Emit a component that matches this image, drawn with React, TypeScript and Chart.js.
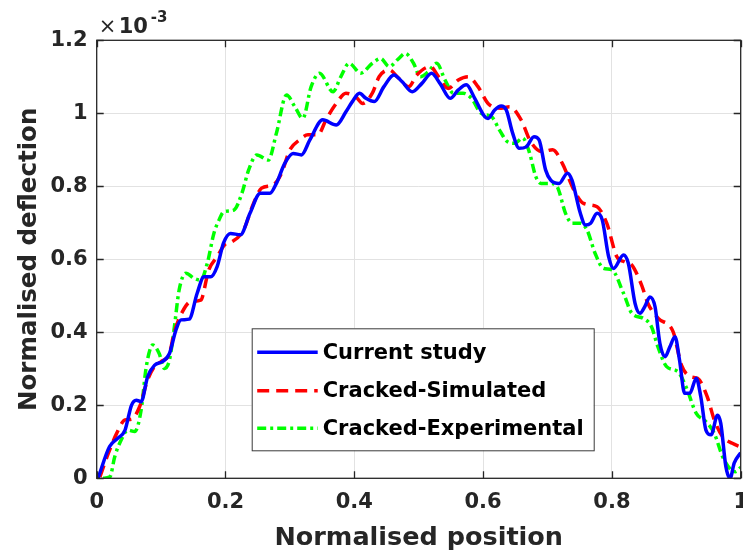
import React, { useEffect, useRef } from 'react';
import { Chart, registerables } from 'chart.js';

Chart.register(...registerables);

// ---------- data ----------
const X_TICKS = [0, 0.2, 0.4, 0.6, 0.8, 1];
const X_TICK_LABELS = ['0', '0.2', '0.4', '0.6', '0.8', '1'];
const Y_TICKS = [0, 0.2, 0.4, 0.6, 0.8, 1, 1.2];
const Y_TICK_LABELS = ['0', '0.2', '0.4', '0.6', '0.8', '1', '1.2'];

const X_TITLE = 'Normalised position';
const Y_TITLE = 'Normalised deflection';
const SERIES_NAMES = ['Current study', 'Cracked-Simulated', 'Cracked-Experimental'];

// values in units of 1e-3
const CURRENT_X = [0.002, 0.02, 0.033, 0.044, 0.054, 0.0615, 0.069, 0.079, 0.09, 0.1025, 0.113, 0.123, 0.131, 0.1435, 0.156, 0.1666, 0.177, 0.187, 0.197, 0.2077, 0.223, 0.238, 0.254, 0.269, 0.279, 0.292, 0.305, 0.318, 0.331, 0.351, 0.372, 0.387, 0.397, 0.408, 0.418, 0.431, 0.446, 0.4615, 0.474, 0.49, 0.505, 0.52, 0.533, 0.549, 0.5615, 0.574, 0.587, 0.6025, 0.6077, 0.618, 0.628, 0.636, 0.646, 0.656, 0.667, 0.679, 0.687, 0.697, 0.705, 0.718, 0.731, 0.738, 0.751, 0.759, 0.767, 0.777, 0.785, 0.795, 0.8025, 0.818, 0.8255, 0.836, 0.8435, 0.851, 0.859, 0.867, 0.8745, 0.8825, 0.89, 0.898, 0.905, 0.913, 0.921, 0.931, 0.938, 0.946, 0.954, 0.964, 0.969, 0.977, 0.9835, 0.99, 1.0];
const CURRENT_Y = [0.0, 0.087, 0.11, 0.132, 0.2, 0.214, 0.21, 0.278, 0.31, 0.32, 0.342, 0.406, 0.434, 0.436, 0.507, 0.552, 0.552, 0.58, 0.645, 0.671, 0.667, 0.726, 0.781, 0.781, 0.808, 0.863, 0.89, 0.886, 0.927, 0.982, 0.968, 1.004, 1.032, 1.055, 1.041, 1.032, 1.073, 1.105, 1.087, 1.059, 1.082, 1.11, 1.082, 1.041, 1.064, 1.078, 1.041, 0.991, 0.986, 1.009, 1.02, 1.009, 0.945, 0.904, 0.908, 0.936, 0.927, 0.845, 0.817, 0.808, 0.836, 0.817, 0.726, 0.694, 0.699, 0.726, 0.708, 0.607, 0.575, 0.612, 0.589, 0.479, 0.452, 0.47, 0.497, 0.47, 0.37, 0.333, 0.36, 0.388, 0.324, 0.233, 0.233, 0.274, 0.224, 0.132, 0.119, 0.173, 0.151, 0.032, 0.0, 0.042, 0.07];

const SIMULATED_X = [0.005, 0.018, 0.031, 0.044, 0.054, 0.0666, 0.079, 0.0897, 0.1, 0.113, 0.12, 0.133, 0.146, 0.1615, 0.174, 0.187, 0.2, 0.21, 0.228, 0.2435, 0.256, 0.274, 0.287, 0.3, 0.315, 0.328, 0.3435, 0.356, 0.372, 0.387, 0.4025, 0.413, 0.428, 0.4385, 0.454, 0.469, 0.4846, 0.497, 0.518, 0.531, 0.546, 0.5615, 0.577, 0.592, 0.6077, 0.628, 0.641, 0.659, 0.674, 0.692, 0.708, 0.723, 0.741, 0.756, 0.777, 0.792, 0.8077, 0.82, 0.831, 0.846, 0.856, 0.872, 0.895, 0.908, 0.923, 0.933, 0.948, 0.959, 0.972, 0.987, 1.0];
const SIMULATED_Y = [0.004, 0.068, 0.123, 0.16, 0.162, 0.196, 0.269, 0.306, 0.32, 0.342, 0.397, 0.456, 0.484, 0.488, 0.571, 0.607, 0.642, 0.648, 0.68, 0.753, 0.795, 0.804, 0.836, 0.9, 0.927, 0.941, 0.941, 0.982, 1.027, 1.055, 1.045, 1.027, 1.055, 1.1, 1.119, 1.096, 1.073, 1.105, 1.128, 1.1, 1.068, 1.091, 1.1, 1.073, 1.027, 1.014, 1.018, 0.982, 0.922, 0.895, 0.9, 0.863, 0.79, 0.753, 0.744, 0.699, 0.607, 0.593, 0.584, 0.53, 0.479, 0.438, 0.402, 0.31, 0.278, 0.274, 0.224, 0.16, 0.114, 0.096, 0.086];

const EXPERIMENTAL_X = [0.01, 0.0205, 0.028, 0.038, 0.0486, 0.059, 0.069, 0.077, 0.087, 0.097, 0.105, 0.113, 0.12, 0.128, 0.1385, 0.151, 0.1615, 0.1717, 0.182, 0.19, 0.197, 0.213, 0.2255, 0.236, 0.2486, 0.2666, 0.279, 0.2948, 0.3077, 0.32, 0.333, 0.346, 0.367, 0.379, 0.392, 0.41, 0.428, 0.441, 0.454, 0.469, 0.479, 0.492, 0.5025, 0.515, 0.528, 0.541, 0.554, 0.569, 0.582, 0.597, 0.613, 0.6255, 0.638, 0.649, 0.6615, 0.6715, 0.682, 0.69, 0.705, 0.715, 0.728, 0.738, 0.751, 0.7615, 0.774, 0.787, 0.8, 0.818, 0.831, 0.849, 0.8615, 0.8715, 0.885, 0.9025, 0.915, 0.931, 0.946, 0.959, 0.972, 0.985, 0.992, 1.0];
const EXPERIMENTAL_Y = [0.0, 0.004, 0.059, 0.105, 0.132, 0.128, 0.187, 0.306, 0.365, 0.342, 0.301, 0.324, 0.406, 0.516, 0.562, 0.548, 0.543, 0.589, 0.671, 0.708, 0.73, 0.735, 0.781, 0.845, 0.886, 0.872, 0.945, 1.05, 1.018, 0.986, 1.073, 1.11, 1.059, 1.1, 1.137, 1.11, 1.137, 1.15, 1.128, 1.15, 1.164, 1.137, 1.1, 1.114, 1.137, 1.091, 1.055, 1.055, 1.041, 1.0, 0.991, 0.954, 0.922, 0.918, 0.932, 0.895, 0.826, 0.808, 0.808, 0.799, 0.726, 0.699, 0.699, 0.68, 0.616, 0.575, 0.571, 0.507, 0.452, 0.438, 0.415, 0.36, 0.306, 0.292, 0.251, 0.178, 0.155, 0.123, 0.059, 0.023, 0.018, 0.03];

// ---------- styles ----------
const FONT = '"DejaVu Sans", "Liberation Sans", sans-serif';
const AXIS_COLOR = '#262626';
const COLORS = ['#0000ff', '#ff0000', '#00ff00'];
const DASHES: number[][] = [[], [12, 7], [9, 4, 3, 4]];
const LINE_W = 3.5;

const zip = (xs: number[], ys: number[]) => xs.map((x, i) => ({ x, y: ys[i] }));

const framePlugin = {
  id: 'frameAndLegend',
  afterDatasetsDraw(chart: any) {
    const { ctx, chartArea: a, scales } = chart;
    ctx.save();
    // box
    ctx.strokeStyle = AXIS_COLOR;
    ctx.lineWidth = 1.3;
    ctx.setLineDash([]);
    ctx.strokeRect(a.left, a.top, a.right - a.left, a.bottom - a.top);
    // inward ticks on all four sides
    const TL = 7;
    ctx.beginPath();
    X_TICKS.forEach((v) => {
      const px = Math.round(scales.x.getPixelForValue(v)) + 0.5;
      ctx.moveTo(px, a.bottom);
      ctx.lineTo(px, a.bottom - TL);
      ctx.moveTo(px, a.top);
      ctx.lineTo(px, a.top + TL);
    });
    Y_TICKS.forEach((v) => {
      const py = Math.round(scales.y.getPixelForValue(v)) + 0.5;
      ctx.moveTo(a.left, py);
      ctx.lineTo(a.left + TL, py);
      ctx.moveTo(a.right, py);
      ctx.lineTo(a.right - TL, py);
    });
    ctx.stroke();

    // exponent label  x10^-3
    ctx.fillStyle = AXIS_COLOR;
    ctx.textBaseline = 'alphabetic';
    ctx.textAlign = 'left';
    ctx.font = `normal 21px ${FONT}`;
    ctx.fillText('\u00d7', a.left + 2, a.top - 7);
    ctx.font = `bold 21px ${FONT}`;
    ctx.fillText('10', a.left + 22, a.top - 7);
    ctx.font = `bold 15px ${FONT}`;
    ctx.fillText('-3', a.left + 54, a.top - 18.5);

    // legend box
    const bx = a.left + 155;
    const by = a.top + 288;
    const bw = 342;
    const bh = 122;
    ctx.fillStyle = '#ffffff';
    ctx.fillRect(bx, by, bw, bh);
    ctx.strokeStyle = '#3a3a3a';
    ctx.lineWidth = 1;
    ctx.strokeRect(bx + 0.5, by + 0.5, bw, bh);
    const rowY = [24, 62.5, 100];
    ctx.font = `bold 21px ${FONT}`;
    ctx.textBaseline = 'middle';
    SERIES_NAMES.forEach((name, i) => {
      const y = by + rowY[i];
      ctx.strokeStyle = COLORS[i];
      ctx.lineWidth = LINE_W;
      ctx.setLineDash(DASHES[i]);
      ctx.beginPath();
      ctx.moveTo(bx + 5.5, y);
      ctx.lineTo(bx + 66, y);
      ctx.stroke();
      ctx.setLineDash([]);
      ctx.fillStyle = '#000000';
      ctx.fillText(name, bx + 71, y + 1);
    });
    ctx.restore();
  },
};

export default function App() {
  const ref = useRef<HTMLCanvasElement | null>(null);

  useEffect(() => {
    if (!ref.current) return;
    const seriesX = [CURRENT_X, SIMULATED_X, EXPERIMENTAL_X];
    const seriesY = [CURRENT_Y, SIMULATED_Y, EXPERIMENTAL_Y];
    const chart = new Chart(ref.current, {
      type: 'line',
      data: {
        datasets: SERIES_NAMES.map((name, i) => ({
          label: name,
          data: zip(seriesX[i], seriesY[i]),
          borderColor: COLORS[i],
          backgroundColor: COLORS[i],
          borderWidth: LINE_W,
          borderDash: DASHES[i],
          pointRadius: 0,
          fill: false,
          cubicInterpolationMode: 'monotone' as const,
        })),
      },
      options: {
        responsive: false,
        animation: false,
        devicePixelRatio: 1,
        layout: { padding: { left: 0, right: 13, top: 40.3, bottom: 0 } },
        plugins: { legend: { display: false }, tooltip: { enabled: false } },
        scales: {
          x: {
            type: 'linear',
            min: 0,
            max: 1,
            afterFit: (s: any) => { s.height = 77.7; },
            afterBuildTicks: (s: any) => { s.ticks = X_TICKS.map((v) => ({ value: v })); },
            ticks: {
              callback: (_v: any, i: number) => X_TICK_LABELS[i],
              font: { family: FONT, size: 21, weight: 'bold' },
              color: AXIS_COLOR,
              padding: 12,
              maxRotation: 0,
            },
            grid: { color: '#e2e2e2', lineWidth: 1, drawTicks: false },
            border: { display: false },
            title: {
              display: true,
              text: X_TITLE,
              font: { family: FONT, size: 25.5, weight: 'bold' },
              color: AXIS_COLOR,
              padding: { top: 0, bottom: 2 },
            },
          },
          y: {
            type: 'linear',
            min: 0,
            max: 1.2,
            afterFit: (s: any) => { s.width = 96.7; },
            afterBuildTicks: (s: any) => { s.ticks = Y_TICKS.map((v) => ({ value: v })); },
            ticks: {
              callback: (_v: any, i: number) => Y_TICK_LABELS[i],
              font: { family: FONT, size: 21, weight: 'bold' },
              color: AXIS_COLOR,
              padding: 9,
            },
            grid: { color: '#e2e2e2', lineWidth: 1, drawTicks: false },
            border: { display: false },
            title: {
              display: true,
              text: Y_TITLE,
              font: { family: FONT, size: 24.5, weight: 'bold' },
              color: AXIS_COLOR,
              padding: { top: 15, bottom: 0 },
            },
          },
        },
      },
      plugins: [framePlugin],
    });
    return () => chart.destroy();
  }, []);

  return (
    <div
      style={{
        position: 'fixed',
        left: 0,
        top: 0,
        width: 743,
        height: 556,
        overflow: 'hidden',
        background: '#ffffff',
      }}
    >
      <canvas ref={ref} width={760} height={556} style={{ display: 'block', width: 760, height: 556 }} />
    </div>
  );
}
